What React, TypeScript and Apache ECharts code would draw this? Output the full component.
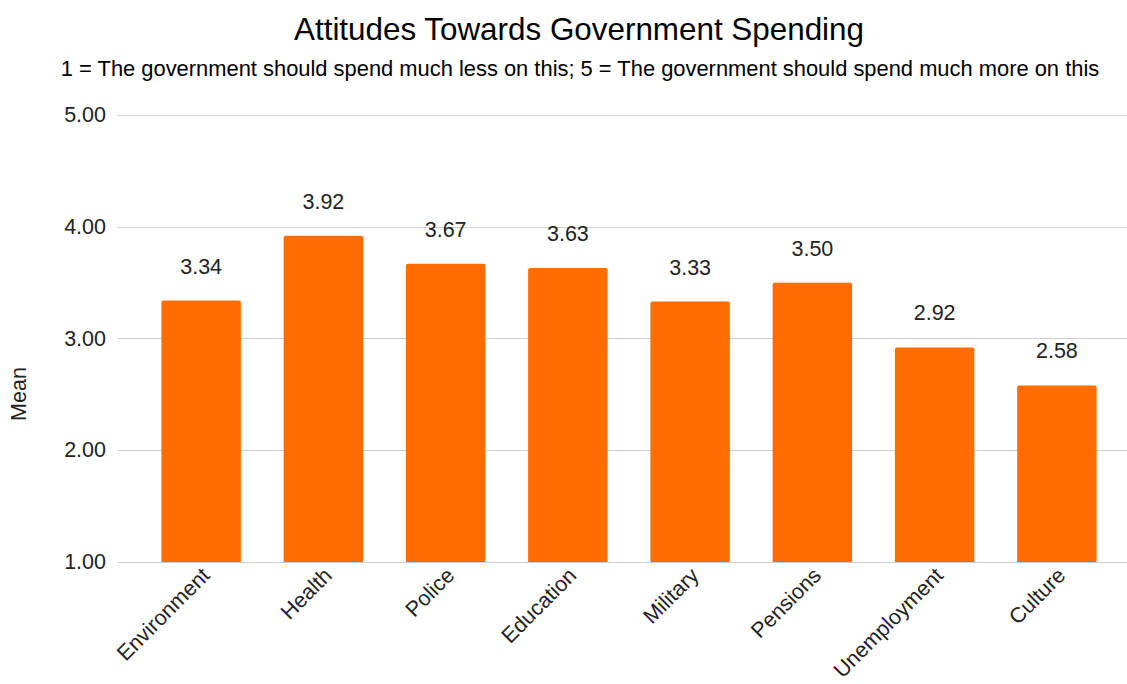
import React, { useEffect, useRef } from "react";
import * as echarts from "echarts";

const categories = ["Environment", "Health", "Police", "Education", "Military", "Pensions", "Unemployment", "Culture"];
const means = [3.34, 3.92, 3.67, 3.63, 3.33, 3.5, 2.92, 2.58];
const yTicks = [1, 2, 3, 4, 5];
const titleText = "Attitudes Towards Government Spending";
const subtitleText = "1 = The government should spend much less on this; 5 = The government should spend much more on this";
const yAxisName = "Mean";

const FONT = "'Liberation Sans', Arial, sans-serif";
const TEXT = "#222222";

export default function App() {
  const ref = useRef<HTMLDivElement>(null);
  useEffect(() => {
    document.body.style.margin = "0";
    const chart = echarts.init(ref.current!, null, { renderer: "svg" });
    const yMin = yTicks[0];
    const yMax = yTicks[yTicks.length - 1];
    chart.setOption({
      animation: false,
      backgroundColor: "#ffffff",
      textStyle: { fontFamily: FONT },
      title: [
        {
          text: titleText,
          left: 574,
          textAlign: "center",
          top: 9,
          textStyle: { fontFamily: FONT, fontSize: 31.4, fontWeight: "normal", color: "#000" },
        },
        {
          text: subtitleText,
          left: 575,
          textAlign: "center",
          top: 52,
          textStyle: { fontFamily: FONT, fontSize: 21.9, fontWeight: "normal", color: "#000" },
        },
      ],
      graphic: [
        {
          type: "text",
          x: 18.5,
          y: 394,
          rotation: Math.PI / 2,
          style: {
            text: yAxisName,
            font: `21.5px ${FONT}`,
            fill: TEXT,
            textAlign: "center",
            textVerticalAlign: "middle",
          },
        },
      ],
      grid: [
        { left: 118, right: 0, top: 115, bottom: 122 },
        { left: 140, width: 978, top: 115, bottom: 122 },
        { left: 145, width: 978, top: 115, bottom: 122 },
      ],
      xAxis: [
        {
          gridIndex: 0,
          type: "value",
          show: false,
        },
        {
          gridIndex: 1,
          type: "category",
          data: categories,
          axisLine: { show: false },
          axisTick: { show: false },
          axisLabel: { show: false },
        },
        {
          gridIndex: 2,
          type: "category",
          data: categories,
          axisLine: { show: false },
          axisTick: { show: false },
          splitLine: { show: false },
          axisLabel: {
            rotate: 45,
            margin: 30,
            fontSize: 21.5,
            color: TEXT,
            fontFamily: FONT,
            interval: 0,
          },
        },
      ],
      yAxis: [
        {
          gridIndex: 0,
          type: "value",
          min: yMin,
          max: yMax,
          interval: 1,
          axisLine: { show: false },
          axisTick: { show: false },
          axisLabel: {
            formatter: (v: number) => v.toFixed(2),
            fontSize: 21.5,
            color: TEXT,
            fontFamily: FONT,
            margin: 12,
          },
          splitLine: { lineStyle: { color: "#cccccc", width: 1 } },
        },
        {
          gridIndex: 1,
          type: "value",
          min: yMin,
          max: yMax,
          interval: 1,
          show: false,
        },
        {
          gridIndex: 2,
          type: "value",
          min: yMin,
          max: yMax,
          interval: 1,
          show: false,
        },
      ],
      series: [
        {
          type: "bar",
          xAxisIndex: 1,
          yAxisIndex: 1,
          data: means,
          barWidth: "65%",
          itemStyle: { color: "#ff6d01", borderRadius: [2, 2, 0, 0] },
          label: {
            show: true,
            position: "top",
            distance: 23,
            formatter: (p: any) => Number(p.value).toFixed(2),
            fontSize: 21.5,
            color: TEXT,
            fontFamily: FONT,
          },
        },
      ],
    });
    return () => chart.dispose();
  }, []);
  return <div ref={ref} style={{ width: 1127, height: 684 }} />;
}
